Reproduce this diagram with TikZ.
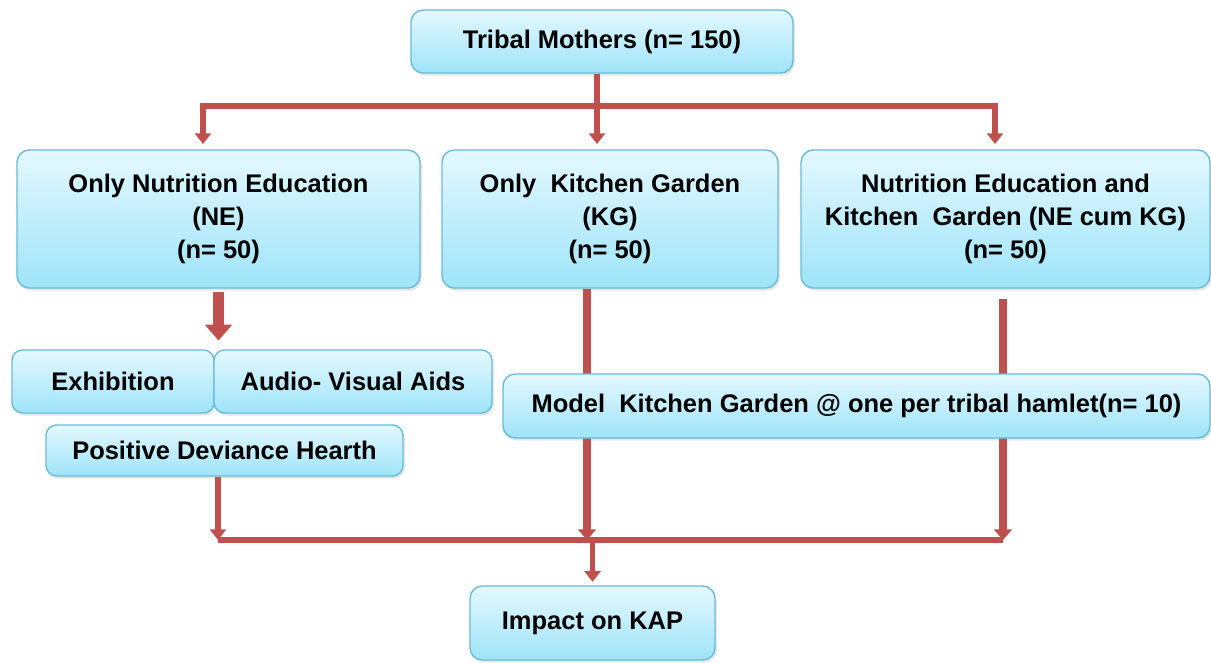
\documentclass[tikz,border=0pt]{standalone}
\usepackage{fontspec}
\setmainfont{Liberation Sans}
\usetikzlibrary{arrows.meta,shadows}

\definecolor{linkred}{RGB}{192,80,77}
\definecolor{boxtop}{RGB}{228,248,254}
\definecolor{boxbottom}{RGB}{158,228,249}
\definecolor{boxline}{RGB}{105,188,214}

\begin{document}
\begin{tikzpicture}[
    box/.style={draw=boxline, line width=0.8pt, rounded corners=7pt,
        top color=boxtop, bottom color=boxbottom, align=center, inner sep=0pt,
        font=\fontsize{14.5}{19}\selectfont\bfseries,
        drop shadow={opacity=0.2, shadow xshift=1pt, shadow yshift=-1.5pt}},
    link/.style={draw=linkred, line width=3pt, -{Triangle[width=9pt,length=6pt]}},
    longlink/.style={link, line width=4.6pt, -{Triangle[width=10pt,length=6pt]}},
    bus/.style={draw=linkred, line width=3.2pt},
    fatlink/.style={draw=linkred, line width=6.3pt, -{Triangle[width=15pt,length=9pt]}}]

    \useasboundingbox (0,0) rectangle (24.22,13.24);

    \node[box, minimum width=7.64cm, minimum height=1.26cm] (top) at (12.04,12.41) {Tribal Mothers (n= 150)};

    \node[box, minimum width=8.06cm, minimum height=2.76cm] (ne) at (4.37,8.86) {Only Nutrition Education\\(NE)\\(n= 50)};
    \node[box, minimum width=6.72cm, minimum height=2.76cm] (kg) at (12.2,8.86) {Only\ \ Kitchen Garden\\(KG)\\(n= 50)};
    \node[box, minimum width=8.18cm, minimum height=2.76cm] (nekg) at (20.11,8.86) {Nutrition Education and\\Kitchen\ \ Garden (NE cum KG)\\(n= 50)};

    \node[box, rounded corners=6pt, minimum width=4.04cm, minimum height=1.26cm] (exh) at (2.26,5.61) {Exhibition};
    \node[box, rounded corners=6pt, minimum width=5.56cm, minimum height=1.26cm] (av) at (7.06,5.61) {Audio- Visual Aids};
    \node[box, rounded corners=6pt, minimum width=7.14cm, minimum height=1.02cm] (pdh) at (4.49,4.23) {Positive Deviance Hearth};

    \node[box, minimum width=4.9cm, minimum height=1.48cm] (kap) at (11.85,0.78) {Impact on KAP};

    % split below the top box
    \coordinate (split) at (11.94,11.12);
    \coordinate (splitL) at (4.06,11.12);
    \coordinate (splitR) at (19.9,11.12);
    \draw[link, shorten >=3pt] (top.south -| split) -- (kg.north -| split);
    \draw[link, shorten >=3pt] (split) -- (splitL) -- (ne.north -| splitL);
    \draw[link, shorten >=3pt] (split) -- (splitR) -- (nekg.north -| splitR);

    \draw[fatlink, shorten <=2pt, shorten >=5pt] (ne.south) -- (ne.south |- exh.north);

    % join above the last box
    \coordinate (joinL) at (4.36,2.44);
    \coordinate (joinM) at (11.74,2.44);
    \coordinate (joinR) at (20.06,2.44);
    \draw[link] (pdh.south -| joinL) -- (joinL);
    \draw[longlink] (kg.south -| joinM) -- (joinM);
    \draw[longlink, shorten <=6pt] (nekg.south -| joinR) -- (joinR);
    \draw[bus] (joinL) -- (joinR);
    \draw[link, shorten >=2pt] (kap.north |- joinM) -- (kap.north);

    \node[box, minimum width=14.14cm, minimum height=1.28cm] (mkg) at (17.13,5.12) {Model\ \ Kitchen Garden @ one per tribal hamlet(n= 10)};
\end{tikzpicture}
\end{document}
